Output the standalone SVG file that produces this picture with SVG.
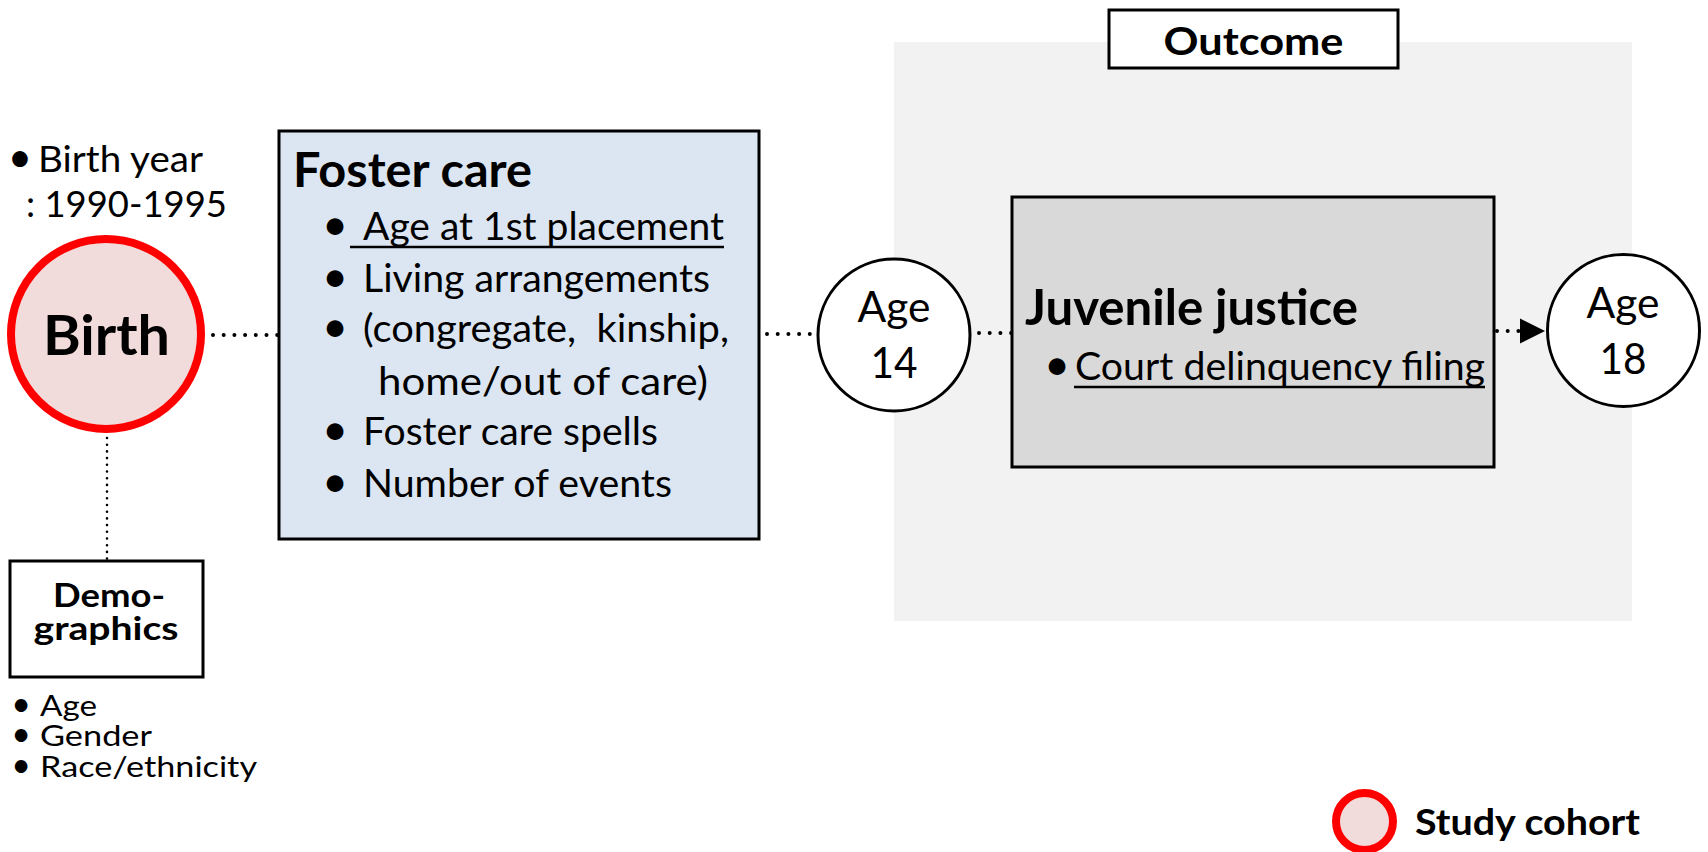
<svg xmlns="http://www.w3.org/2000/svg" width="1708" height="852" viewBox="0 0 1708 852">
  <defs>
    <style>
      .t { font-family: Lato, "Liberation Sans", "DejaVu Sans", sans-serif; fill: #000; }
      .b { font-weight: 700; }
      .bul { font-family: Lato, "Liberation Sans", "DejaVu Sans", sans-serif; fill: #000; text-anchor: middle; }
      .box { stroke: #000; stroke-width: 3; }
      .age { fill: #fff; stroke: #000; stroke-width: 3; }
      .cohort { fill: #f2dcdb; stroke: #ff0000; stroke-width: 8; }
      .dot { fill: none; stroke: #000; stroke-width: 4; stroke-linecap: round; stroke-dasharray: 0 10.7; }
      .dotthin { fill: none; stroke: #000; stroke-width: 2.6; stroke-linecap: round; stroke-dasharray: 0 6.7; }
      .ul { stroke: #000; stroke-width: 2.7; }
    </style>
    <marker id="arrow" markerUnits="userSpaceOnUse" markerWidth="26" markerHeight="26" refX="0" refY="13" orient="auto" viewBox="0 0 26 26">
      <path d="M0,0.5 L25,13 L0,25.5 Z" fill="#000"/>
    </marker>
  </defs>

  <rect width="1708" height="852" fill="#fff"/>

  <g id="outcome-region">
    <rect x="894" y="42" width="738" height="579" fill="#f2f2f2"/>
  </g>

  <g id="outcome-label">
    <rect x="1109" y="10" width="289" height="58" fill="#fff" class="box"/>
    <text class="t b" x="1253.5" y="55" font-size="38" text-anchor="middle" textLength="180" lengthAdjust="spacingAndGlyphs">Outcome</text>
  </g>

  <g id="connectors">
    <line class="dot" x1="213" y1="335" x2="279" y2="335"/>
    <line class="dotthin" x1="107" y1="438" x2="107" y2="559"/>
    <line class="dot" x1="767" y1="334" x2="815" y2="334"/>
    <line class="dot" x1="979" y1="333" x2="1012" y2="333"/>
    <line class="dot" x1="1497" y1="331" x2="1520" y2="331" marker-end="url(#arrow)"/>
  </g>

  <g id="birth-year-note">
    <text class="bul" x="20" y="172" font-size="42">•</text>
    <text class="t" x="38" y="172" font-size="36" textLength="165" lengthAdjust="spacingAndGlyphs">Birth year</text>
    <text class="t" x="26" y="217" font-size="36" textLength="201" lengthAdjust="spacingAndGlyphs">: 1990-1995</text>
  </g>

  <g id="birth">
    <circle class="cohort" cx="106" cy="334" r="95"/>
    <text class="t b" x="106.5" y="355" font-size="56" text-anchor="middle" textLength="127" lengthAdjust="spacingAndGlyphs">Birth</text>
  </g>

  <g id="foster-care">
    <rect x="279" y="131" width="480" height="408" fill="#dce6f2" class="box"/>
    <text class="t b" x="293" y="187" font-size="47" textLength="239" lengthAdjust="spacingAndGlyphs">Foster care</text>
    <text class="bul" x="335" y="240" font-size="45">•</text>
    <text class="t" x="363" y="240" font-size="38" textLength="361" lengthAdjust="spacingAndGlyphs">Age at 1st placement</text>
    <line class="ul" x1="350" y1="247" x2="724" y2="247"/>
    <text class="bul" x="335" y="292" font-size="45">•</text>
    <text class="t" x="363" y="292" font-size="38" textLength="347" lengthAdjust="spacingAndGlyphs">Living arrangements</text>
    <text class="bul" x="335" y="342" font-size="45">•</text>
    <text class="t" x="363" y="342" font-size="38" xml:space="preserve" textLength="366" lengthAdjust="spacingAndGlyphs">(congregate,  kinship,</text>
    <text class="t" x="378" y="395" font-size="38" textLength="330" lengthAdjust="spacingAndGlyphs">home/out of care)</text>
    <text class="bul" x="335" y="445" font-size="45">•</text>
    <text class="t" x="363" y="445" font-size="38" textLength="295" lengthAdjust="spacingAndGlyphs">Foster care spells</text>
    <text class="bul" x="335" y="497" font-size="45">•</text>
    <text class="t" x="363" y="497" font-size="38" textLength="309" lengthAdjust="spacingAndGlyphs">Number of events</text>
  </g>

  <g id="demographics">
    <rect x="10" y="561" width="193" height="116" fill="#fff" class="box"/>
    <text class="t b" x="109" y="607" font-size="32" text-anchor="middle" textLength="112" lengthAdjust="spacingAndGlyphs">Demo-</text>
    <text class="t b" x="106" y="640" font-size="32" text-anchor="middle" textLength="145" lengthAdjust="spacingAndGlyphs">graphics</text>
  </g>

  <g id="demographics-list">
    <text class="bul" x="21" y="716" font-size="34">•</text>
    <text class="t" x="40" y="716" font-size="29" textLength="57" lengthAdjust="spacingAndGlyphs">Age</text>
    <text class="bul" x="21" y="746" font-size="34">•</text>
    <text class="t" x="40" y="746" font-size="29" textLength="112" lengthAdjust="spacingAndGlyphs">Gender</text>
    <text class="bul" x="21" y="777" font-size="34">•</text>
    <text class="t" x="40" y="777" font-size="29" textLength="217" lengthAdjust="spacingAndGlyphs">Race/ethnicity</text>
  </g>

  <g id="age14">
    <circle class="age" cx="894" cy="335" r="76"/>
    <text class="t" x="894" y="322" font-size="42" text-anchor="middle" textLength="73" lengthAdjust="spacingAndGlyphs">Age</text>
    <text class="t" x="894" y="378" font-size="42" text-anchor="middle" textLength="47" lengthAdjust="spacingAndGlyphs">14</text>
  </g>

  <g id="juvenile-justice">
    <rect x="1012" y="197" width="482" height="270" fill="#d9d9d9" class="box"/>
    <text class="t b" x="1025" y="325" font-size="49" textLength="333" lengthAdjust="spacingAndGlyphs">Juvenile justice</text>
    <text class="bul" x="1057" y="380" font-size="45">•</text>
    <text class="t" x="1075" y="380" font-size="38" textLength="410" lengthAdjust="spacingAndGlyphs">Court delinquency filing</text>
    <line class="ul" x1="1074" y1="387" x2="1485" y2="387"/>
  </g>

  <g id="age18">
    <circle class="age" cx="1623.5" cy="330.5" r="76"/>
    <text class="t" x="1623" y="318" font-size="42" text-anchor="middle" textLength="73" lengthAdjust="spacingAndGlyphs">Age</text>
    <text class="t" x="1623" y="374" font-size="42" text-anchor="middle" textLength="47" lengthAdjust="spacingAndGlyphs">18</text>
  </g>

  <g id="legend">
    <circle class="cohort" cx="1364.5" cy="821.5" r="28.5"/>
    <text class="t b" x="1415" y="835" font-size="36" textLength="225" lengthAdjust="spacingAndGlyphs">Study cohort</text>
  </g>
</svg>
